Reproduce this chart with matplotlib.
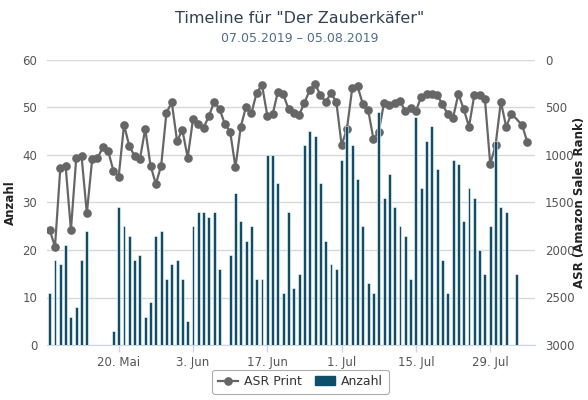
import matplotlib
matplotlib.use("Agg")
import matplotlib.pyplot as plt
import matplotlib.dates as mdates
import pandas as pd
import numpy as np
from matplotlib.lines import Line2D
from matplotlib.patches import Patch

dates = pd.date_range("2019-05-07", "2019-08-05", freq="D")

anzahl = [11, 18, 17, 21, 6, 8, 18, 24,
          0, 0, 0, 0,
          3, 29, 25, 23, 18, 19, 6, 9, 23, 24, 14, 17, 18,
          14, 5, 25, 28, 28, 27, 28, 16, 0, 19, 32, 26, 22, 25, 14, 14, 40, 40, 34, 11,
          28, 12, 15, 42, 45, 44, 34, 22, 17, 16,
          39, 46, 42, 35, 25, 13, 11, 49, 31, 36, 29, 25, 23, 14, 48, 33, 43, 46, 37, 18,
          11, 39, 38, 26, 33, 31, 20, 15, 25, 43, 29,
          28, 0, 15, 0, 0]

asr_print = [1789, 1965, 1140, 1116, 1789, 1035, 1011, 1614, 1046, 1035, 919, 954, 1165,
             1228, 684, 905, 1011, 1042, 726, 1112, 1305, 1112, 554, 446, 853,
             737, 1028, 625, 674, 714, 589, 439, 516, 674, 754, 1130, 702, 491, 561, 344,
             263, 586, 572, 333, 361, 516, 561, 579, 449, 316, 253, 368, 439, 351, 439,
             895, 726, 298, 274, 467, 526, 832, 754, 449, 474, 456, 432, 537, 502, 537,
             386, 361, 358, 368, 467, 572, 607, 358, 516, 702, 368, 368, 414, 1095, 900, 439,
             702, 565, None, 684, 867]

tick_dates = ["2019-05-20", "2019-06-03", "2019-06-17", "2019-07-01", "2019-07-15", "2019-07-29"]
tick_labels = ["20. Mai", "3. Jun", "17. Jun", "1. Jul", "15. Jul", "29. Jul"]

title = 'Timeline für "Der Zauberkäfer"'
subtitle = "07.05.2019 – 05.08.2019"

bar_color = "#0b4f6c"
line_color = "#666666"
grid_color = "#d8d8d8"
label_color = "#555555"

plt.rcParams["font.family"] = ["DejaVu Sans"]

fig = plt.figure(figsize=(5.88, 4.0), dpi=100)
ax = fig.add_axes([0.080, 0.1375, 0.830, 0.7125])
ax2 = ax.twinx()

x = mdates.date2num(dates)
ax.bar(x, anzahl, width=0.55, color=bar_color, edgecolor="white", linewidth=0.4, zorder=3)

pts = [(xi, v) for xi, v in zip(x, asr_print) if v is not None]
lx = [p[0] for p in pts]
ly = [p[1] for p in pts]
ax2.plot(lx, ly, color=line_color, linewidth=1.6, marker="o", markersize=5.2, zorder=2)

ax.set_zorder(ax2.get_zorder() + 1)
ax.patch.set_visible(False)

ax.set_ylim(0, 60)
ax.set_yticks(range(0, 61, 10))
ax2.set_ylim(3000, 0)
ax2.set_yticks(range(0, 3001, 500))

ax.set_xlim(x[0] - 0.5, x[-1] + 1.45)
ax.set_xticks(mdates.date2num(pd.to_datetime(tick_dates)))
ax.set_xticklabels(tick_labels)

ax2.grid(axis="y", color=grid_color, linewidth=1, zorder=0)
ax2.set_axisbelow(True)
ax.grid(False)

for a in (ax, ax2):
    for s in a.spines.values():
        s.set_visible(False)
ax.spines["bottom"].set_visible(True)
ax.spines["bottom"].set_color("#ccd6eb")

ax.tick_params(axis="x", colors="#ccd6eb", length=5, width=1, labelcolor=label_color, labelsize=8.5, pad=3)
ax.tick_params(axis="y", length=0, labelcolor=label_color, labelsize=8.5, pad=7)
ax2.tick_params(axis="y", length=0, labelcolor=label_color, labelsize=8.5, pad=7)

ax.set_ylabel("Anzahl", fontsize=8.5, fontweight="bold", color="#222222")
ax2.set_ylabel("ASR (Amazon Sales Rank)", fontsize=8.5, fontweight="bold", color="#222222")
ax.yaxis.set_label_coords(-0.062, 0.5)
ax2.yaxis.set_label_coords(1.078, 0.5)

fig.text(0.51, 0.953, title, ha="center", va="center", fontsize=11.5, color="#2f4158")
fig.text(0.51, 0.905, subtitle, ha="center", va="center", fontsize=9, color="#4d6d8f")

handles = [Line2D([0], [0], color=line_color, linewidth=1.6, marker="o", markersize=5.2),
           Patch(facecolor=bar_color, edgecolor=bar_color)]
leg = fig.legend(handles, ["ASR Print", "Anzahl"], loc="lower center",
                 bbox_to_anchor=(0.511, 0.0), ncol=2, frameon=True, fontsize=9,
                 handlelength=1.6, handletextpad=0.5, columnspacing=1.0,
                 borderpad=0.45, fancybox=True)
leg.get_frame().set_edgecolor("#999999")
leg.get_frame().set_linewidth(0.8)
for t in leg.get_texts():
    t.set_color("#333333")

fig.savefig("out.png", dpi=100)
